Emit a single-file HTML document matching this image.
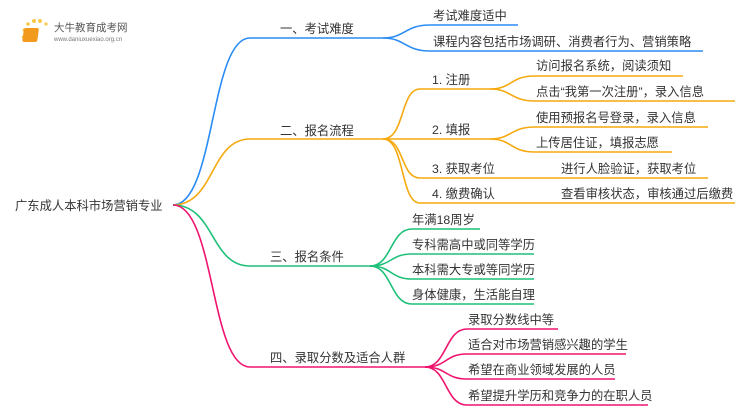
<!DOCTYPE html>
<html><head><meta charset="utf-8"><style>
body{margin:0;background:#fff;}
svg text{font-family:"Liberation Sans","Noto Sans CJK SC",sans-serif;font-size:12.3px;fill:#333;}
</style></head><body>
<svg width="750" height="410" viewBox="0 0 750 410" xmlns="http://www.w3.org/2000/svg" fill="none" stroke-width="1.6">
<!-- logo -->
<g>
<circle cx="24" cy="30" r="1.5" fill="#f7c94a"/><circle cx="28" cy="24" r="1.8" fill="#f7c94a"/><circle cx="34" cy="21" r="2" fill="#f7c94a"/><circle cx="40" cy="21" r="2" fill="#f7c94a"/><circle cx="46" cy="24" r="1.6" fill="#f7c94a"/><circle cx="23" cy="37" r="1.3" fill="#f7c94a"/>
<rect x="28" y="28" width="15" height="14" rx="2" fill="#f29a1e" transform="skewX(-8)"/>
<text x="54" y="31" style="font-size:10.5px;fill:#555">大牛教育成考网</text>
<text x="54" y="41" style="font-size:6px;fill:#777">www.daniuxuexiao.org.cn</text>
</g>
<text x="15" y="210">广东成人本科市场营销专业</text>
<!-- branch 1 blue -->
<g stroke="#2a8cf6">
<path d="M173 205 C215 205 210 38 250 38 H383"/>
<path d="M383 38 C405 38 405 25 430 25 H518"/>
<path d="M383 38 C405 38 405 51 430 51 H703"/>
</g>
<text x="280" y="33">一、考试难度</text>
<text x="433" y="20">考试难度适中</text>
<text x="433" y="46">课程内容包括市场调研、消费者行为、营销策略</text>
<!-- branch 2 orange -->
<g stroke="#f6a90e">
<path d="M173 205 C215 205 210 139 250 139 H383"/>
<path d="M383 139 C405 139 400 89 420 89 H490"/>
<path d="M383 139 H490"/>
<path d="M383 139 C405 139 400 178 420 178 H708"/>
<path d="M383 139 C405 139 400 203 420 203 H735"/>
<path d="M490 89 C512 89 510 76 535 76 H683"/>
<path d="M490 89 C512 89 510 101 535 101 H735"/>
<path d="M490 139 C512 139 510 127 535 127 H708"/>
<path d="M490 139 C512 139 510 152 535 152 H672"/>
</g>
<text x="280" y="135">二、报名流程</text>
<text x="432" y="84">1. 注册</text>
<text x="432" y="134">2. 填报</text>
<text x="432" y="173">3. 获取考位</text>
<text x="432" y="198">4. 缴费确认</text>
<text x="536" y="70">访问报名系统，阅读须知</text>
<text x="536" y="96">点击“我第一次注册”，录入信息</text>
<text x="536" y="122">使用预报名号登录，录入信息</text>
<text x="536" y="147">上传居住证，填报志愿</text>
<text x="561" y="173">进行人脸验证，获取考位</text>
<text x="561" y="198">查看审核状态，审核通过后缴费</text>
<!-- branch 3 green -->
<g stroke="#1fc07a">
<path d="M173 205 C215 205 210 266 250 266 H370"/>
<path d="M370 266 C392 266 390 229 412 229 H480"/>
<path d="M370 266 C392 266 390 254 412 254 H534"/>
<path d="M370 266 C392 266 390 279 412 279 H534"/>
<path d="M370 266 C392 266 390 304 412 304 H534"/>
</g>
<text x="270" y="261">三、报名条件</text>
<text x="412" y="224">年满18周岁</text>
<text x="412" y="249">专科需高中或同等学历</text>
<text x="412" y="274">本科需大专或等同学历</text>
<text x="412" y="299">身体健康，生活能自理</text>
<!-- branch 4 pink -->
<g stroke="#f0136e">
<path d="M173 205 C215 205 210 367 250 367 H425"/>
<path d="M425 367 C447 367 445 329 467 329 H558"/>
<path d="M425 367 C447 367 445 354 467 354 H626"/>
<path d="M425 367 C447 367 445 379 467 379 H615"/>
<path d="M425 367 C447 367 445 405 467 405 H648"/>
</g>
<text x="270" y="362">四、录取分数及适合人群</text>
<text x="468" y="324">录取分数线中等</text>
<text x="468" y="349">适合对市场营销感兴趣的学生</text>
<text x="468" y="374">希望在商业领域发展的人员</text>
<text x="468" y="400">希望提升学历和竞争力的在职人员</text>
</svg>
</body></html>
